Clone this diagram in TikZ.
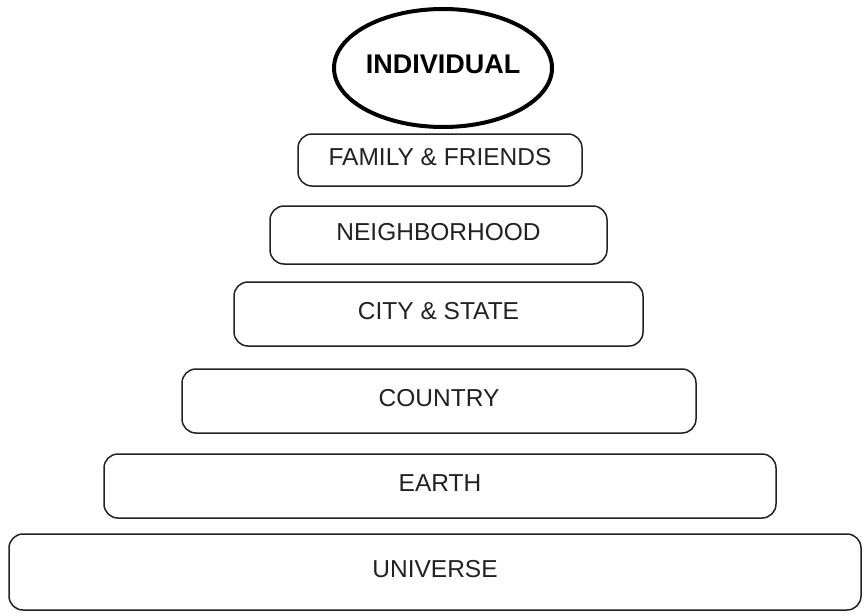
\documentclass[tikz,border=0pt]{standalone}
\usepackage{fontspec}
\setmainfont{Liberation Sans}
\usetikzlibrary{shapes.geometric}
\definecolor{ink}{HTML}{222222}
\begin{document}
\begin{tikzpicture}[x=1pt,y=-1pt,
  tier/.style={draw=ink, line width=1.5pt, rounded corners=14pt, inner sep=0pt,
    text=ink, text depth=6pt, font=\fontsize{24.5}{30}\selectfont},
  oval/.style={draw=black, line width=4pt, ellipse, inner sep=0pt},
  ovaltext/.style={text=black, inner sep=0pt, font=\fontsize{27}{32}\selectfont\bfseries}]
\useasboundingbox[fill=white] (0,0) rectangle (864,613);
\node[oval, minimum width=218pt, minimum height=118pt] (indoval) at (443,68) {};
\node[ovaltext] (ind) at ([yshift=4pt]indoval.center) {INDIVIDUAL};
\node[tier, minimum width=284pt, minimum height=52pt] (fam) at (440,160) {FAMILY \& FRIENDS};
\node[tier, minimum width=337pt, minimum height=58pt] (nbh) at (438.5,235) {NEIGHBORHOOD};
\node[tier, minimum width=409pt, minimum height=64pt] (city) at (438.5,314) {CITY \& STATE};
\node[tier, minimum width=514pt, minimum height=64pt] (country) at (439,401) {COUNTRY};
\node[tier, minimum width=672pt, minimum height=64pt] (earth) at (440,486) {EARTH};
\node[tier, minimum width=852pt, minimum height=76pt] (universe) at (435,572) {UNIVERSE};
\end{tikzpicture}
\end{document}
